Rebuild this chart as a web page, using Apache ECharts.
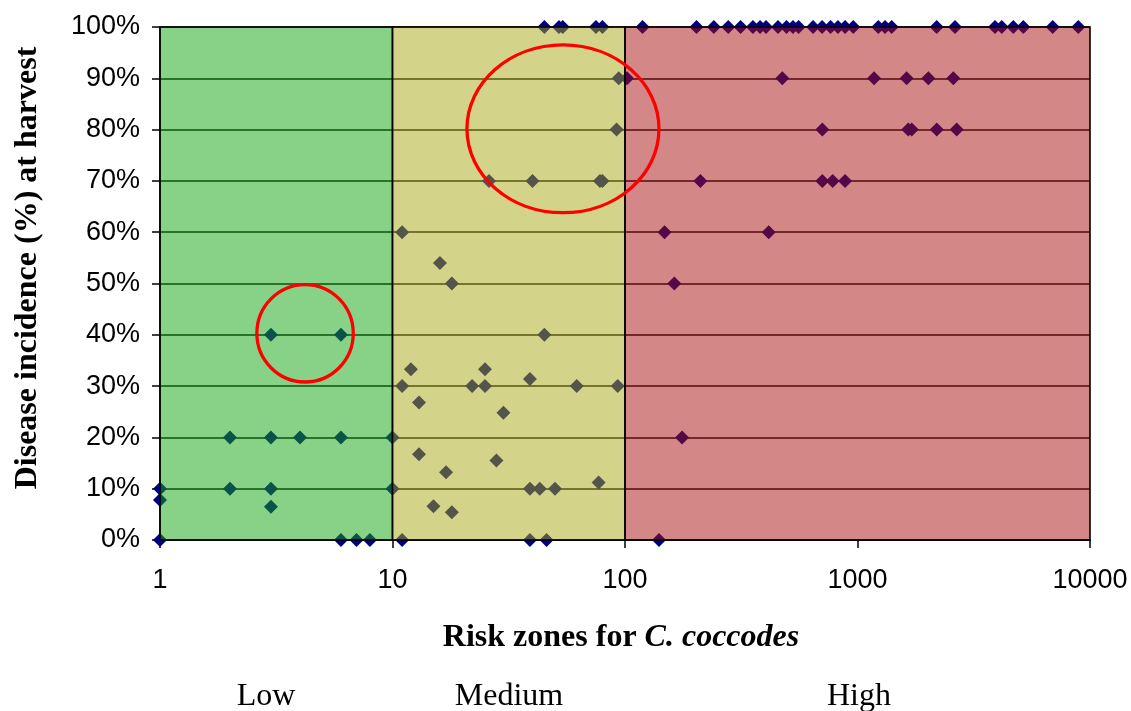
<!DOCTYPE html>
<html>
<head>
<meta charset="utf-8">
<script src="https://cdn.jsdelivr.net/npm/echarts@6/dist/echarts.min.js"></script>
<style>
html,body{margin:0;padding:0;background:#fff;}
#chart{width:1131px;height:711px;}
</style>
</head>
<body>
<div id="chart"></div>
<script>
// ---- data ----
// [risk value (log scale), disease incidence %]
const lowZonePoints = [
  [1,0],[6,0],[7,0],[8,0],
  [1,7.8],[3,6.5],
  [1,10],[2,10],[3,10],[10,10],
  [2,20],[3,20],[4,20],[6,20],[10,20],
  [3,40],[6,40]
];
const mediumZonePoints = [
  [11,0],[39,0],[46,0],
  [15,6.6],[18,5.4],
  [39,10],[43,10],[50,10],[77,11.2],
  [17,13.2],[28,15.5],[13,16.7],
  [30,24.8],[13,26.8],
  [11,30],[22,30],[25,30],[62,30],[93,30],[39,31.4],
  [12,33.3],[25,33.3],
  [45,40],[18,50],[16,54],[11,60],
  [26,70],[40,70],[78,70],[80,70],
  [92,80],[94,90],
  [45,100],[52,100],[54,100],[75,100],[80,100]
];
const highZonePoints = [
  [140,0],[176,20],[163,50],
  [148,60],[415,60],
  [211,70],[706,70],[782,70],[884,70],
  [706,80],[1653,80],[1711,80],[2192,80],[2671,80],
  [102,90],[475,90],[1178,90],[1627,90],[2017,90],[2583,90]
];
const highZoneFullIncidence = [119,203,241,278,314,355,381,404,455,495,528,558,644,704,766,824,884,959,1229,1313,1403,2191,2627,3903,4172,4679,5165,6912,8906];

const zoneNames = ['Low','Medium','High'];
const zoneBounds = [[1,10],[10,100],[100,10000]];
const xTicks = [1,10,100,1000,10000];
const yTicks = [0,10,20,30,40,50,60,70,80,90,100];
// highlighted groups: [xMin, xMax, yMin, yMax] in data units
const highlightEllipses = [[2.61,6.78,30.8,49.8],[20.9,140,63.8,96.5]];

// ---- chart ----
const zoneFills = ['rgba(17,165,17,0.5)','rgba(167,167,19,0.5)','rgba(167,15,15,0.5)'];
const allPoints = lowZonePoints.concat(mediumZonePoints, highZonePoints,
  highZoneFullIncidence.map(v => [v,100]));

const chart = echarts.init(document.getElementById('chart'), null, {renderer:'canvas'});
const FONT = '"Liberation Sans", Arial, sans-serif';
const SERIF = '"Liberation Serif", "Times New Roman", serif';

chart.setOption({
  animation:false,
  grid:{left:160,right:41,top:27,bottom:171,containLabel:false},
  xAxis:{
    type:'log', logBase:10, min:xTicks[0], max:xTicks[xTicks.length-1],
    axisLine:{show:true,onZero:false,lineStyle:{color:'#000',width:1.5}},
    axisTick:{show:true,length:8,lineStyle:{color:'#000',width:1.5}},
    minorTick:{show:false},
    splitLine:{show:false},
    axisLabel:{color:'#000',fontFamily:FONT,fontSize:27,margin:27,
      formatter:v=>String(Math.round(v))}
  },
  yAxis:{
    type:'value', min:yTicks[0], max:yTicks[yTicks.length-1], interval:10,
    axisLine:{show:true,lineStyle:{color:'#000',width:1.5}},
    axisTick:{show:true,length:8,lineStyle:{color:'#000',width:1.5}},
    splitLine:{show:true,lineStyle:{color:'#000',width:1.6}},
    axisLabel:{color:'#000',fontFamily:FONT,fontSize:27,margin:20,
      formatter:v=>v+'%'}
  },
  series:[
    {
      type:'scatter',
      data:allPoints,
      symbol:'diamond',
      symbolSize:14,
      itemStyle:{color:'#000080',opacity:1},
      clip:false,
      z:2
    },
    {
      type:'custom',
      data:zoneBounds.map((b,i)=>[b[0],b[1],i]),
      z:5,
      silent:true,
      clip:false,
      encode:{x:[0,1]},
      renderItem:function(params,api){
        const x0 = api.value(0), x1 = api.value(1), idx = api.value(2);
        const p0 = api.coord([x0,yTicks[yTicks.length-1]]);
        const p1 = api.coord([x1,yTicks[0]]);
        return {
          type:'rect',
          shape:{x:p0[0],y:p0[1],width:p1[0]-p0[0],height:p1[1]-p0[1]},
          style:{fill:zoneFills[idx],stroke:'#000',lineWidth:1.6}
        };
      }
    }
  ]
});

function addAnnotations(){
  const g = [];
  highlightEllipses.forEach(e=>{
    const a = chart.convertToPixel({gridIndex:0},[e[0],e[3]]);
    const b = chart.convertToPixel({gridIndex:0},[e[1],e[2]]);
    g.push({
      type:'ellipse', z:100,
      shape:{cx:(a[0]+b[0])/2, cy:(a[1]+b[1])/2, rx:Math.abs(b[0]-a[0])/2, ry:Math.abs(b[1]-a[1])/2},
      style:{fill:'none',stroke:'#ff0000',lineWidth:3.3}
    });
  });
  // axis titles
  g.push({
    type:'text', z:100, x:28, y:268, rotation:Math.PI/2,
    style:{text:'Disease incidence (%) at harvest',font:'bold 32px '+SERIF,fill:'#000',
      textAlign:'center',textVerticalAlign:'middle'}
  });
  g.push({
    type:'text', z:100, x:621, y:638,
    style:{
      text:'{b|Risk zones for }{i|C. coccodes}',
      textAlign:'center',textVerticalAlign:'middle',
      rich:{
        b:{font:'bold 32px '+SERIF,fill:'#000'},
        i:{font:'italic bold 32px '+SERIF,fill:'#000'}
      }
    }
  });
  const zoneLabelX = [266,509,859];
  zoneNames.forEach((n,i)=>{
    g.push({
      type:'text', z:100, x:zoneLabelX[i], y:697,
      style:{text:n,font:'32px '+SERIF,fill:'#000',textAlign:'center',textVerticalAlign:'middle'}
    });
  });
  chart.setOption({graphic:g});
}
addAnnotations();
</script>
</body>
</html>
